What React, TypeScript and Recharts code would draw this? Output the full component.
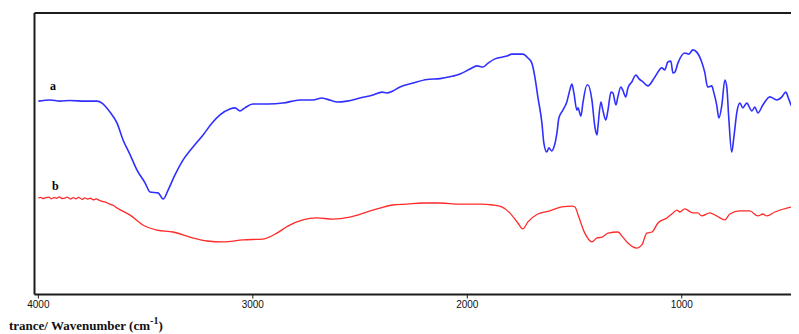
import { Line, LineChart, ReferenceLine, XAxis, YAxis } from "recharts";

// FTIR spectra, wavenumber (cm-1) vs transmittance (a.u.)
const aWave = [
  4000, 3945, 3899, 3852, 3782, 3726, 3703, 3666, 3633, 3605, 3572, 3540, 3502, 3479, 3442, 3418, 3395, 3363, 3325,
  3279, 3232, 3190, 3153, 3107, 3083, 3060, 3037, 3000, 2930, 2860, 2780, 2720, 2678, 2655, 2608, 2561, 2501, 2440,
  2398, 2375, 2347, 2314, 2254, 2188, 2127, 2071, 2034, 1987, 1955, 1927, 1903, 1871, 1815, 1792, 1764, 1741, 1717,
  1699, 1685, 1671, 1652, 1643, 1629, 1620, 1606, 1597, 1582, 1573, 1554, 1536, 1522, 1512, 1503, 1489, 1484, 1470,
  1461, 1442, 1437, 1419, 1405, 1395, 1391, 1377, 1368, 1354, 1344, 1330, 1321, 1307, 1298, 1284, 1275, 1261, 1251,
  1233, 1214, 1200, 1181, 1158, 1125, 1093, 1079, 1065, 1051, 1041, 1032, 1018, 986, 967, 948, 930, 907, 893, 879,
  860, 851, 837, 827, 813, 799, 790, 781, 767, 757, 743, 729, 715, 697, 673, 659, 645, 622, 589, 557, 533, 515, 501,
  482, 468, 454, 430,
];
const aTrans = [
  68.7, 69.1, 68.7, 68.9, 68.7, 68.7, 68.0, 64.8, 60.9, 54.9, 49.6, 44.2, 39.6, 36.4, 36.1, 33.9, 37.1, 42.5, 47.8,
  52.4, 56.7, 60.9, 63.8, 65.9, 66.3, 65.2, 66.3, 67.7, 67.7, 68.0, 69.1, 69.1, 69.8, 69.4, 68.4, 68.7, 69.8, 70.9,
  71.9, 71.6, 72.3, 73.7, 75.1, 76.4, 76.7, 77.5, 78.3, 80.1, 81.2, 80.8, 82.2, 83.7, 84.7, 85.4, 85.4, 85.4, 84.0,
  82.2, 77.3, 70.2, 60.9, 53.8, 50.6, 52.1, 51.0, 52.1, 57.4, 62.7, 65.5, 68.4, 72.6, 74.8, 71.6, 65.5, 66.3, 63.4,
  68.0, 74.4, 74.4, 69.1, 59.5, 56.7, 59.5, 68.4, 65.5, 62.0, 65.5, 71.9, 71.6, 67.3, 70.2, 73.7, 72.6, 70.2, 73.4,
  75.5, 78.0, 76.7, 75.5, 74.1, 77.3, 80.5, 79.8, 82.6, 82.9, 78.7, 79.0, 82.2, 85.8, 85.4, 86.9, 86.1, 82.6, 79.0, 73.7,
  74.1, 71.9, 67.3, 62.7, 67.3, 76.2, 73.7, 63.0, 50.6, 55.9, 64.8, 68.0, 66.3, 68.0, 65.2, 66.6, 64.5, 67.3, 70.2,
  69.1, 70.2, 71.9, 69.4, 66.3, 67.3, 71.9, 74.5,
];

const bWave = [
  4000, 3988, 3979, 3966, 3950, 3941, 3927, 3915, 3902, 3890, 3874, 3866, 3850, 3838, 3825, 3812, 3796, 3784, 3770,
  3757, 3744, 3730, 3718, 3703, 3690, 3678, 3666, 3650, 3633, 3572, 3512, 3447, 3372, 3293, 3214, 3139, 3046, 2953,
  2888, 2837, 2767, 2702, 2627, 2548, 2469, 2408, 2347, 2282, 2207, 2127, 2034, 1941, 1881, 1839, 1802, 1764, 1741,
  1717, 1671, 1615, 1559, 1512, 1498, 1480, 1452, 1419, 1395, 1372, 1344, 1298, 1275, 1251, 1209, 1186, 1163, 1139,
  1111, 1069, 1046, 1023, 1009, 986, 949, 925, 907, 869, 837, 799, 776, 729, 683, 645, 622, 603, 566, 510, 463, 430,
];
const bTrans = [
  34.3, 34.5, 34.1, 34.4, 34.6, 34.0, 34.4, 34.2, 34.7, 34.1, 34.3, 34.6, 33.9, 34.4, 34.0, 34.5, 33.8, 34.3, 33.9,
  34.2, 33.6, 34.0, 33.5, 33.1, 32.9, 32.5, 32.1, 31.6, 30.7, 28.2, 24.7, 22.9, 22.2, 20.4, 19.0, 18.7, 19.4, 19.7,
  21.8, 24.3, 26.5, 27.2, 26.8, 27.5, 29.3, 30.7, 31.8, 32.1, 32.5, 32.5, 32.1, 32.1, 31.8, 31.1, 29.0, 25.4, 23.3,
  25.8, 28.6, 29.7, 31.1, 31.4, 31.1, 27.5, 21.8, 18.7, 20.1, 20.4, 21.8, 22.2, 20.4, 18.3, 16.5, 17.6, 21.8, 22.2,
  25.4, 27.2, 28.6, 30.0, 29.3, 30.4, 29.0, 29.0, 27.9, 29.0, 27.9, 26.5, 28.6, 29.7, 29.7, 27.9, 28.6, 27.9, 29.3,
  30.7, 31.4, 31.8,
];

const xTicks = [4000, 3000, 2000, 1000];

const aData = aWave.map((w, i) => ({ w, t: aTrans[i] }));
const bData = bWave.map((w, i) => ({ w, t: bTrans[i] }));

const frame = "#1c1c1c";
const letter = { position: "absolute" as const, fontFamily: "'Liberation Serif', serif", fontWeight: 700, fontSize: 12 };

export default function App() {
  return (
    <div style={{ position: "relative", width: 791, height: 326, overflow: "hidden", background: "#fff" }}>
      <LineChart width={800} height={310} margin={{ top: 5, right: 4, left: 26.5, bottom: 3.5 }}>
        <XAxis
          type="number"
          dataKey="w"
          domain={[430, 4018]}
          reversed
          allowDataOverflow
          ticks={xTicks}
          height={20}
          tickSize={4}
          tickMargin={2}
          axisLine={{ stroke: frame, strokeWidth: 2 }}
          tickLine={{ stroke: frame }}
          tick={{ fill: "#111", fontSize: 10, fontFamily: "'Liberation Sans', Arial, sans-serif" }}
        />
        <YAxis type="number" domain={[0, 100]} hide />
        <ReferenceLine x={4018} stroke={frame} strokeWidth={2} />
        <ReferenceLine y={100} stroke={frame} strokeWidth={2} />
        <Line data={aData} dataKey="t" type="monotone" stroke="#2f2fff" strokeWidth={1.6} dot={false} isAnimationActive={false} />
        <Line data={bData} dataKey="t" type="monotone" stroke="#ff2a2a" strokeWidth={1.3} dot={false} isAnimationActive={false} />
      </LineChart>
      <span style={{ ...letter, left: 42, top: 71 }}>a</span>
      <span style={{ ...letter, left: 44, top: 171 }}>b</span>
      <div
        style={{
          position: "absolute",
          left: 1,
          top: 311,
          fontFamily: "'Liberation Serif', serif",
          fontWeight: 700,
          fontSize: 13,
          lineHeight: "13px",
          whiteSpace: "nowrap",
          color: "#111",
        }}
      >
        trance/ Wavenumber (cm<sup style={{ fontSize: 10, verticalAlign: "6px", lineHeight: 0 }}>-1</sup>)
      </div>
    </div>
  );
}
